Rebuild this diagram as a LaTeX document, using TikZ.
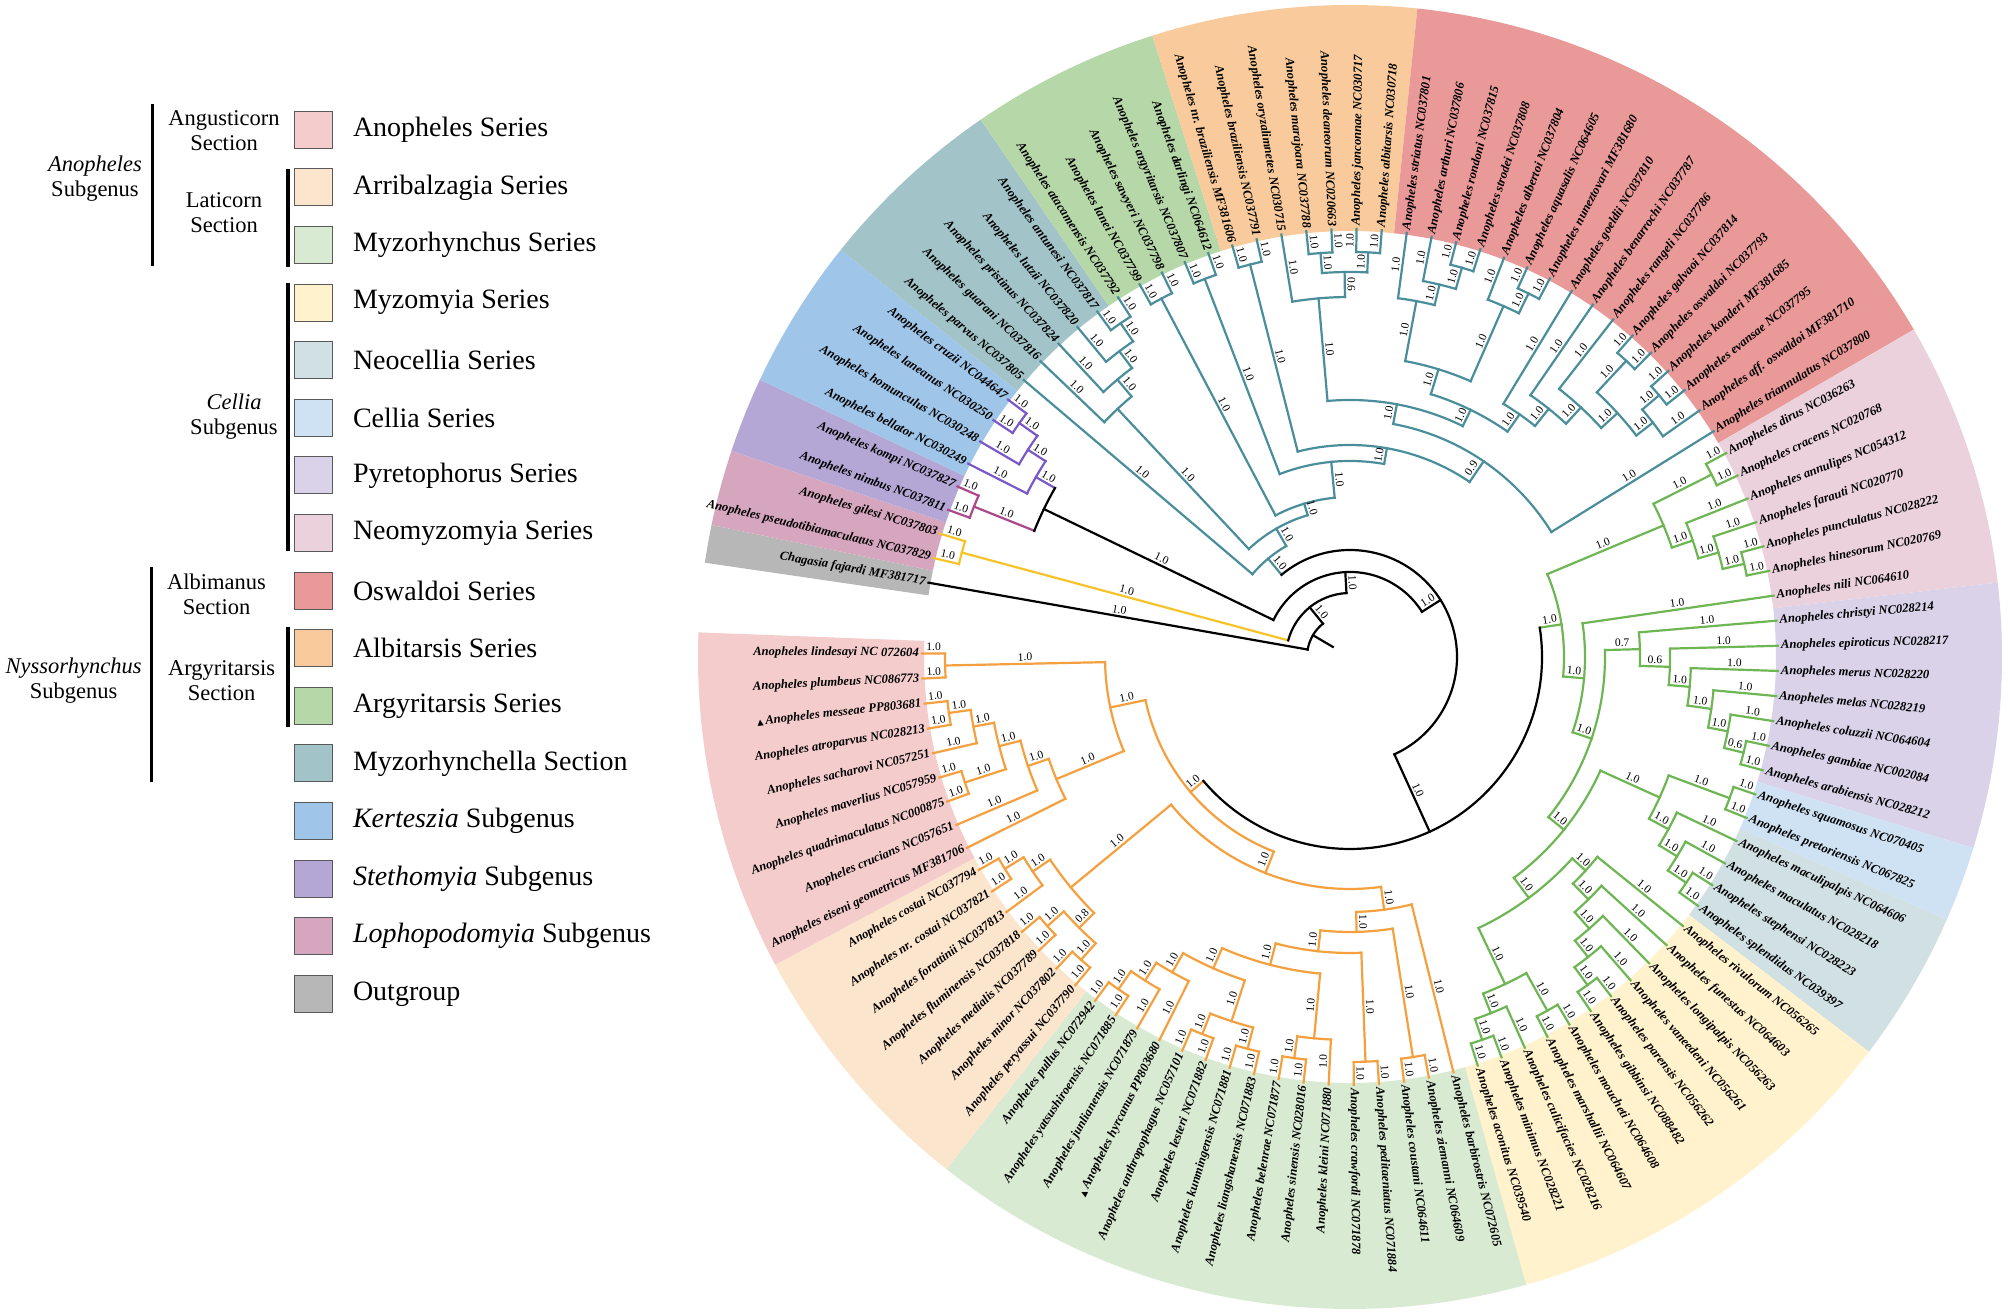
\documentclass[tikz,border=0pt]{standalone}
\usepackage{fontspec}
\setmainfont{Liberation Serif}
\newfontfamily\symfont{DejaVu Sans}
\definecolor{cTeal}{RGB}{74,142,156}
\definecolor{cGreen}{RGB}{110,182,84}
\definecolor{cOr}{RGB}{245,160,62}
\definecolor{cPur}{RGB}{122,88,200}
\definecolor{cMag}{RGB}{172,72,140}
\definecolor{cYel}{RGB}{246,196,40}
\definecolor{bAnoph}{HTML}{F4CCCC}
\definecolor{bArr}{HTML}{FCE5CD}
\definecolor{bMyzh}{HTML}{D9EAD3}
\definecolor{bMyzo}{HTML}{FFF2CC}
\definecolor{bNeoc}{HTML}{D0E0E3}
\definecolor{bCel}{HTML}{CFE2F3}
\definecolor{bPyr}{HTML}{D9D2E9}
\definecolor{bNeom}{HTML}{EAD1DC}
\definecolor{bOsw}{HTML}{EA9999}
\definecolor{bAlb}{HTML}{F9CB9C}
\definecolor{bArg}{HTML}{B6D7A8}
\definecolor{bMyzc}{HTML}{A2C4C9}
\definecolor{bKer}{HTML}{9FC5E8}
\definecolor{bSte}{HTML}{B4A7D6}
\definecolor{bLop}{HTML}{D5A6BD}
\definecolor{bOut}{HTML}{B7B7B7}
\newcount\slc
\newcommand\band[3]{%
 \pgfmathsetmacro\bS{170-(#1-1)*3.37+1.685}%
 \pgfmathsetmacro\bE{170-(#2-1)*3.37-1.685}%
 \fill[#3] (\bS:426) arc[start angle=\bS, end angle=\bE, radius=426] -- (\bE:652) arc[start angle=\bE, end angle=\bS, radius=652] -- cycle;}
\newcommand\lf[3]{%
 \pgfmathsetmacro\tmpang{170-(#1-1)*3.37}%
 \expandafter\xdef\csname treeAl#1\endcsname{\tmpang}%
 \expandafter\xdef\csname treeRl#1\endcsname{428}%
 \expandafter\xdef\csname treeCl#1\endcsname{#3}%
 \coordinate (l#1) at (\tmpang:428);
 \pgfmathtruncatemacro\isleft{(\tmpang > 90 || \tmpang < -90) ? 1 : 0}%
 \ifnum\isleft=1
   \pgfmathsetmacro\rot{\tmpang+180}%
   \node[leaflab, rotate=\rot, anchor=east] (L#1) at (\tmpang:431) {#2};
 \else
   \node[leaflab, rotate=\tmpang, anchor=west] (L#1) at (\tmpang:431) {#2};
 \fi}
\newcommand\suplab[4]{%
 \pgfmathsetmacro\slR{(#2+#3)/2}%
 \pgfmathsetmacro\slD{380/\slR}%
 \pgfmathtruncatemacro\isleft{(#1 > 90 || #1 < -90) ? 1 : 0}%
 \ifnum\isleft=1
   \pgfmathsetmacro\slP{#1-\slD}\pgfmathsetmacro\slRot{#1+180}%
 \else
   \pgfmathsetmacro\slP{#1+\slD}\pgfmathsetmacro\slRot{#1}%
 \fi
 \global\advance\slc by 1
 \node[suplab, rotate=\slRot] (s\the\slc) at (\slP:\slR) {#4};}
\newcommand\nd[7]{%
 \edef\ndA{\csname treeA#2\endcsname}%
 \edef\ndB{\csname treeA#3\endcsname}%
 \edef\ndRA{\csname treeR#2\endcsname}%
 \edef\ndRB{\csname treeR#3\endcsname}%
 \edef\ndCA{\csname treeC#2\endcsname}%
 \edef\ndCB{\csname treeC#3\endcsname}%
 \pgfmathsetmacro\ndM{(\ndA+\ndB)/2}%
 \expandafter\xdef\csname treeA#1\endcsname{\ndM}%
 \expandafter\xdef\csname treeR#1\endcsname{#4}%
 \expandafter\xdef\csname treeC#1\endcsname{#5}%
 \coordinate (#1) at (\ndM:#4);
 \coordinate (#1-a) at (\ndA:#4);
 \coordinate (#1-b) at (\ndB:#4);
 \draw[br, draw=\ndCA] (#2) -- (#1-a);
 \draw[br, draw=\ndCB] (#3) -- (#1-b);
 \draw[br, draw=#5] (#1-a) arc[start angle=\ndA, end angle=\ndB, radius=#4];
 \suplab{\ndA}{\ndRA}{#4}{#6}%
 \suplab{\ndB}{\ndRB}{#4}{#7}}
\newcommand\tri{{\symfont\fontsize{8}{8}\selectfont ▲}\,}
\begin{document}
\begin{tikzpicture}[x=1pt,y=1pt,
  br/.style={line width=2.2pt, line cap=rect},
  leaflab/.style={font=\fontsize{12.6}{14}\selectfont\bfseries\itshape, inner sep=0pt},
  suplab/.style={font=\fontsize{11.5}{12}\selectfont, inner sep=0pt},
  legbox/.style={draw=black!65, line width=1pt, minimum width=38pt, minimum height=37pt, inner sep=0pt},
  legtxt/.style={font=\fontsize{28}{32}\selectfont, anchor=west, inner sep=0pt},
  grp/.style={font=\fontsize{22.5}{25}\selectfont, align=center, inner sep=0pt},
  bar/.style={line width=3.5pt}]
\fill[white] (0,0) rectangle (2008,1313);
\useasboundingbox (0,0) rectangle (2008,1313);
% ---------------- legend
\node[legbox, fill=bAnoph] (k1) at (313.5,1183.2) {};
\node[legbox, fill=bArr]   (k2) at (313.5,1125.6) {};
\node[legbox, fill=bMyzh]  (k3) at (313.5,1068.0) {};
\node[legbox, fill=bMyzo]  (k4) at (313.5,1010.4) {};
\node[legbox, fill=bNeoc]  (k5) at (313.5,952.8) {};
\node[legbox, fill=bCel]   (k6) at (313.5,895.2) {};
\node[legbox, fill=bPyr]   (k7) at (313.5,837.6) {};
\node[legbox, fill=bNeom]  (k8) at (313.5,780.0) {};
\node[legbox, fill=bOsw]   (k9) at (313.5,722.4) {};
\node[legbox, fill=bAlb]   (k10) at (313.5,664.8) {};
\node[legbox, fill=bArg]   (k11) at (313.5,607.2) {};
\node[legbox, fill=bMyzc]  (k12) at (313.5,549.6) {};
\node[legbox, fill=bKer]   (k13) at (313.5,492.0) {};
\node[legbox, fill=bSte]   (k14) at (313.5,434.4) {};
\node[legbox, fill=bLop]   (k15) at (313.5,376.8) {};
\node[legbox, fill=bOut]   (k16) at (313.5,319.2) {};
\node[legtxt] (t1) at (352.8,1183.2) {Anopheles Series};
\node[legtxt] (t2) at (352.8,1125.6) {Arribalzagia Series};
\node[legtxt] (t3) at (352.8,1068.0) {Myzorhynchus Series};
\node[legtxt] (t4) at (352.8,1010.4) {Myzomyia Series};
\node[legtxt] (t5) at (352.8,952.8) {Neocellia Series};
\node[legtxt] (t6) at (352.8,895.2) {Cellia Series};
\node[legtxt] (t7) at (352.8,837.6) {Pyretophorus Series};
\node[legtxt] (t8) at (352.8,780.0) {Neomyzomyia Series};
\node[legtxt] (t9) at (352.8,722.4) {Oswaldoi Series};
\node[legtxt] (t10) at (352.8,664.8) {Albitarsis Series};
\node[legtxt] (t11) at (352.8,607.2) {Argyritarsis Series};
\node[legtxt] (t12) at (352.8,549.6) {Myzorhynchella Section};
\node[legtxt] (t13) at (352.8,492.0) {\textit{Kerteszia} Subgenus};
\node[legtxt] (t14) at (352.8,434.4) {\textit{Stethomyia} Subgenus};
\node[legtxt] (t15) at (352.8,376.8) {\textit{Lophopodomyia} Subgenus};
\node[legtxt] (t16) at (352.8,319.2) {Outgroup};
\coordinate (ba1) at (152.4,1209); \coordinate (ba2) at (152.4,1047);
\coordinate (bb1) at (288,1144);   \coordinate (bb2) at (288,1046);
\coordinate (bc1) at (288,1030);   \coordinate (bc2) at (288,762);
\coordinate (bd1) at (151.5,746);  \coordinate (bd2) at (151.5,531);
\coordinate (be1) at (288,686);    \coordinate (be2) at (288,586);
\draw[bar] (ba1) -- (ba2);
\draw[bar] (bb1) -- (bb2);
\draw[bar] (bc1) -- (bc2);
\draw[bar] (bd1) -- (bd2);
\draw[bar] (be1) -- (be2);
\node[grp] (g1) at (224,1182.5) {Angusticorn\\Section};
\node[grp] (g2) at (224,1100) {Laticorn\\Section};
\node[grp] (g3) at (95,1134.5) {\textit{Anopheles}\\Subgenus};
\node[grp] (g4) at (234,896) {\textit{Cellia}\\Subgenus};
\node[grp] (g5) at (216.5,719) {Albimanus\\Section};
\node[grp] (g6) at (221.6,632.5) {Argyritarsis\\Section};
\node[grp] (g7) at (73.6,632.5) {\textit{Nyssorhynchus}\\Subgenus};
% ---------------- tree
\begin{scope}[shift={(1350,656)}]
\band{1}{1}{bOut}
\band{2}{3}{bLop}
\band{4}{5}{bSte}
\band{6}{9}{bKer}
\band{10}{14}{bMyzc}
\band{15}{19}{bArg}
\band{20}{26}{bAlb}
\band{27}{42}{bOsw}
\band{43}{49}{bNeom}
\band{50}{56}{bPyr}
\band{57}{58}{bCel}
\band{59}{62}{bNeoc}
\band{63}{73}{bMyzo}
\band{74}{89}{bMyzh}
\band{90}{96}{bArr}
\band{97}{105}{bAnoph}
\lf{1}{Chagasia fajardi MF381717}{black}
\lf{2}{Anopheles pseudotibiamaculatus NC037829}{cYel}
\lf{3}{Anopheles gilesi NC037803}{cYel}
\lf{4}{Anopheles nimbus NC037811}{cMag}
\lf{5}{Anopheles kompi NC037827}{cMag}
\lf{6}{Anopheles bellator NC030249}{cPur}
\lf{7}{Anopheles homunculus NC030248}{cPur}
\lf{8}{Anopheles laneanus NC030250}{cPur}
\lf{9}{Anopheles cruzii NC044647}{cPur}
\lf{10}{Anopheles parvus NC037805}{cTeal}
\lf{11}{Anopheles guarani NC037816}{cTeal}
\lf{12}{Anopheles pristinus NC037824}{cTeal}
\lf{13}{Anopheles lutzii NC037820}{cTeal}
\lf{14}{Anopheles antunesi NC037817}{cTeal}
\lf{15}{Anopheles atacamensis NC037792}{cTeal}
\lf{16}{Anopheles lanei NC037799}{cTeal}
\lf{17}{Anopheles sawyeri NC037798}{cTeal}
\lf{18}{Anopheles argyritarsis NC037807}{cTeal}
\lf{19}{Anopheles darlingi NC064612}{cTeal}
\lf{20}{Anopheles nr. braziliensis MF381606}{cTeal}
\lf{21}{Anopheles braziliensis NC037791}{cTeal}
\lf{22}{Anopheles oryzalimnetes NC030715}{cTeal}
\lf{23}{Anopheles marajoara NC037788}{cTeal}
\lf{24}{Anopheles deaneorum NC020663}{cTeal}
\lf{25}{Anopheles janconnae NC030717}{cTeal}
\lf{26}{Anopheles albitarsis NC030718}{cTeal}
\lf{27}{Anopheles striatus NC037801}{cTeal}
\lf{28}{Anopheles arthuri NC037806}{cTeal}
\lf{29}{Anopheles rondoni NC037815}{cTeal}
\lf{30}{Anopheles strodei NC037808}{cTeal}
\lf{31}{Anopheles albertoi NC037804}{cTeal}
\lf{32}{Anopheles aquasalis NC064605}{cTeal}
\lf{33}{Anopheles nuneztovari MF381680}{cTeal}
\lf{34}{Anopheles goeldii NC037810}{cTeal}
\lf{35}{Anopheles benarrochi NC037787}{cTeal}
\lf{36}{Anopheles rangeli NC037786}{cTeal}
\lf{37}{Anopheles galvaoi NC037814}{cTeal}
\lf{38}{Anopheles oswaldoi NC037793}{cTeal}
\lf{39}{Anopheles konderi MF381685}{cTeal}
\lf{40}{Anopheles evansae NC037795}{cTeal}
\lf{41}{Anopheles aff. oswaldoi MF381710}{cTeal}
\lf{42}{Anopheles triannulatus NC037800}{cTeal}
\lf{43}{Anopheles dirus NC036263}{cGreen}
\lf{44}{Anopheles cracens NC020768}{cGreen}
\lf{45}{Anopheles annulipes NC054312}{cGreen}
\lf{46}{Anopheles farauti NC020770}{cGreen}
\lf{47}{Anopheles punctulatus NC028222}{cGreen}
\lf{48}{Anopheles hinesorum NC020769}{cGreen}
\lf{49}{Anopheles nili NC064610}{cGreen}
\lf{50}{Anopheles christyi NC028214}{cGreen}
\lf{51}{Anopheles epiroticus NC028217}{cGreen}
\lf{52}{Anopheles merus NC028220}{cGreen}
\lf{53}{Anopheles melas NC028219}{cGreen}
\lf{54}{Anopheles coluzzii NC064604}{cGreen}
\lf{55}{Anopheles gambiae NC002084}{cGreen}
\lf{56}{Anopheles arabiensis NC028212}{cGreen}
\lf{57}{Anopheles squamosus NC070405}{cGreen}
\lf{58}{Anopheles pretoriensis NC067825}{cGreen}
\lf{59}{Anopheles maculipalpis NC064606}{cGreen}
\lf{60}{Anopheles maculatus NC028218}{cGreen}
\lf{61}{Anopheles stephensi NC028223}{cGreen}
\lf{62}{Anopheles splendidus NC039397}{cGreen}
\lf{63}{Anopheles rivulorum NC056265}{cGreen}
\lf{64}{Anopheles funestus NC064603}{cGreen}
\lf{65}{Anopheles longipalpis NC056263}{cGreen}
\lf{66}{Anopheles vaneedeni NC056261}{cGreen}
\lf{67}{Anopheles parensis NC056262}{cGreen}
\lf{68}{Anopheles gibbinsi NC088482}{cGreen}
\lf{69}{Anopheles moucheti NC064608}{cGreen}
\lf{70}{Anopheles marshallii NC064607}{cGreen}
\lf{71}{Anopheles culicifacies NC028216}{cGreen}
\lf{72}{Anopheles minimus NC028221}{cGreen}
\lf{73}{Anopheles aconitus NC039540}{cGreen}
\lf{74}{Anopheles barbirostris NC072605}{cOr}
\lf{75}{Anopheles ziemanni NC064609}{cOr}
\lf{76}{Anopheles coustani NC064611}{cOr}
\lf{77}{Anopheles peditaeniatus NC071884}{cOr}
\lf{78}{Anopheles crawfordi NC071878}{cOr}
\lf{79}{Anopheles kleini NC071880}{cOr}
\lf{80}{Anopheles sinensis NC028016}{cOr}
\lf{81}{Anopheles belenrae NC071877}{cOr}
\lf{82}{Anopheles liangshanensis NC071883}{cOr}
\lf{83}{Anopheles kunmingensis NC071881}{cOr}
\lf{84}{Anopheles lesteri NC071882}{cOr}
\lf{85}{Anopheles anthropophagus NC057101}{cOr}
\lf{86}{\tri Anopheles hyrcanus PP803680}{cOr}
\lf{87}{Anopheles junlianensis NC071879}{cOr}
\lf{88}{Anopheles yatsushiroensis NC071885}{cOr}
\lf{89}{Anopheles pullus NC072942}{cOr}
\lf{90}{Anopheles peryassui NC037790}{cOr}
\lf{91}{Anopheles minor NC037802}{cOr}
\lf{92}{Anopheles medialis NC037789}{cOr}
\lf{93}{Anopheles fluminensis NC037818}{cOr}
\lf{94}{Anopheles forattinii NC037813}{cOr}
\lf{95}{Anopheles nr. costai NC037821}{cOr}
\lf{96}{Anopheles costai NC037794}{cOr}
\lf{97}{Anopheles eiseni geometricus MF381706}{cOr}
\lf{98}{Anopheles crucians NC057651}{cOr}
\lf{99}{Anopheles quadrimaculatus NC000875}{cOr}
\lf{100}{Anopheles maverlius NC057959}{cOr}
\lf{101}{Anopheles sacharovi NC057251}{cOr}
\lf{102}{Anopheles atroparvus NC028213}{cOr}
\lf{103}{\tri Anopheles messeae PP803681}{cOr}
\lf{104}{Anopheles plumbeus NC086773}{cOr}
\lf{105}{Anopheles lindesayi NC 072604}{cOr}
% internal nodes
\nd{lopho}{l2}{l3}{402}{cYel}{1.0}{1.0}
\nd{steth}{l4}{l5}{405}{cMag}{1.0}{1.0}
\nd{k3}{l8}{l9}{405}{cPur}{1.0}{1.0}
\nd{k2}{l7}{k3}{383}{cPur}{1.0}{1.0}
\nd{kert}{l6}{k2}{362}{cPur}{1.0}{1.0}
\nd{ks}{steth}{kert}{340}{black}{1.0}{1.0}
% Nyssorhynchus
\nd{m4}{l14}{l15}{405}{cTeal}{1.0}{1.0}
\nd{m3}{l13}{m4}{383}{cTeal}{1.0}{1.0}
\nd{m2}{l12}{m3}{362}{cTeal}{1.0}{1.0}
\nd{myz}{l11}{m2}{340}{cTeal}{1.0}{1.0}
\nd{ga}{l16}{l17}{405}{cTeal}{1.0}{1.0}
\nd{gb}{l18}{l19}{405}{cTeal}{1.0}{1.0}
\nd{a1}{l20}{l21}{405}{cTeal}{1.0}{1.0}
\nd{a2}{l23}{l24}{405}{cTeal}{1.0}{1.0}
\nd{a3}{l25}{l26}{405}{cTeal}{1.0}{1.0}
\nd{a4}{a2}{a3}{385}{cTeal}{1.0}{1.0}
\nd{a5}{l22}{a4}{360}{cTeal}{1.0}{0.6}
\nd{o1}{l29}{l30}{405}{cTeal}{1.0}{1.0}
\nd{o2}{l28}{o1}{383}{cTeal}{1.0}{1.0}
\nd{oa}{l27}{o2}{362}{cTeal}{1.0}{1.0}
\nd{o5}{l32}{l33}{405}{cTeal}{1.0}{1.0}
\nd{ob}{l31}{o5}{383}{cTeal}{1.0}{1.0}
\nd{oab}{oa}{ob}{301}{cTeal}{1.0}{1.0}
\nd{o7}{l37}{l38}{405}{cTeal}{1.0}{1.0}
\nd{o8}{l39}{l40}{405}{cTeal}{1.0}{1.0}
\nd{o9}{o8}{l41}{383}{cTeal}{1.0}{1.0}
\nd{o10}{o7}{o9}{362}{cTeal}{1.0}{1.0}
\nd{o11}{l36}{o10}{340}{cTeal}{1.0}{1.0}
\nd{o12}{l35}{o11}{318}{cTeal}{1.0}{1.0}
\nd{oc}{l34}{o12}{296}{cTeal}{1.0}{1.0}
\nd{oabc}{oab}{oc}{275}{cTeal}{1.0}{1.0}
\nd{yy}{a5}{oabc}{257}{cTeal}{1.0}{1.0}
\nd{b5}{yy}{l42}{237}{cTeal}{1.0}{1.0}
\nd{b4}{a1}{b5}{212}{cTeal}{1.0}{0.9}
\nd{b3}{gb}{b4}{196}{cTeal}{1.0}{1.0}
\nd{b2}{ga}{b3}{160}{cTeal}{1.0}{1.0}
\nd{b1}{myz}{b2}{148}{cTeal}{1.0}{1.0}
\nd{nyss}{l10}{b1}{128}{cTeal}{1.0}{1.0}
% Cellia
\nd{e1}{l43}{l44}{405}{cGreen}{1.0}{1.0}
\nd{e2}{l47}{l48}{405}{cGreen}{1.0}{1.0}
\nd{e3}{l46}{e2}{383}{cGreen}{1.0}{1.0}
\nd{e4}{l45}{e3}{362}{cGreen}{1.0}{1.0}
\nd{neo}{e1}{e4}{340}{cGreen}{1.0}{1.0}
\nd{p5}{l55}{l56}{405}{cGreen}{1.0}{1.0}
\nd{p4}{l54}{p5}{385}{cGreen}{1.0}{0.6}
\nd{p3}{l53}{p4}{365}{cGreen}{1.0}{1.0}
\nd{p2}{l52}{p3}{341}{cGreen}{1.0}{1.0}
\nd{pyr}{l51}{p2}{320}{cGreen}{1.0}{1.0}
\nd{pc}{l50}{pyr}{290}{cGreen}{1.0}{0.6}
\nd{c1}{l57}{l58}{405}{cGreen}{1.0}{1.0}
\nd{n3}{l61}{l62}{405}{cGreen}{1.0}{1.0}
\nd{n2}{l60}{n3}{383}{cGreen}{1.0}{1.0}
\nd{n1}{l59}{n2}{362}{cGreen}{1.0}{1.0}
\nd{cn}{c1}{n1}{340}{cGreen}{1.0}{1.0}
\nd{z1}{l72}{l73}{405}{cGreen}{1.0}{1.0}
\nd{z2}{l71}{z1}{383}{cGreen}{1.0}{1.0}
\nd{z3}{l69}{l70}{405}{cGreen}{1.0}{1.0}
\nd{z4}{z3}{z2}{362}{cGreen}{1.0}{1.0}
\nd{z5}{l67}{l68}{405}{cGreen}{1.0}{1.0}
\nd{z6}{l66}{z5}{383}{cGreen}{1.0}{1.0}
\nd{z7}{l65}{z6}{362}{cGreen}{1.0}{1.0}
\nd{z8}{l64}{z7}{340}{cGreen}{1.0}{1.0}
\nd{z9}{l63}{z8}{318}{cGreen}{1.0}{1.0}
\nd{myzo}{z9}{z4}{300}{cGreen}{1.0}{1.0}
\nd{cnm}{cn}{myzo}{275}{cGreen}{1.0}{1.0}
\nd{r2}{pc}{cnm}{255}{cGreen}{0.7}{1.0}
\nd{rest}{l49}{r2}{235}{cGreen}{1.0}{1.0}
\nd{cellia}{neo}{rest}{214}{cGreen}{1.0}{1.0}
% Anopheles subgenus
\nd{mh1}{l88}{l89}{405}{cOr}{1.0}{1.0}
\nd{mh2}{l87}{mh1}{383}{cOr}{1.0}{1.0}
\nd{mh3}{l86}{mh2}{362}{cOr}{1.0}{1.0}
\nd{mh5}{l84}{l85}{405}{cOr}{1.0}{1.0}
\nd{mh6}{l82}{l83}{405}{cOr}{1.0}{1.0}
\nd{mh7}{mh6}{mh5}{383}{cOr}{1.0}{1.0}
\nd{mh8}{mh7}{mh3}{340}{cOr}{1.0}{1.0}
\nd{mh9}{l80}{l81}{405}{cOr}{1.0}{1.0}
\nd{mh10}{l79}{mh9}{383}{cOr}{1.0}{1.0}
\nd{mh11}{mh10}{mh8}{318}{cOr}{1.0}{1.0}
\nd{mh12}{l77}{l78}{405}{cOr}{1.0}{1.0}
\nd{mh13}{mh12}{mh11}{296}{cOr}{1.0}{1.0}
\nd{mh14}{l75}{l76}{405}{cOr}{1.0}{1.0}
\nd{mh15}{mh14}{mh13}{275}{cOr}{1.0}{1.0}
\nd{myzh}{l74}{mh15}{255}{cOr}{1.0}{1.0}
\nd{ar1}{l95}{l96}{405}{cOr}{1.0}{1.0}
\nd{ar2}{l94}{ar1}{383}{cOr}{1.0}{1.0}
\nd{ar3}{l92}{l93}{405}{cOr}{1.0}{1.0}
\nd{ar4}{l90}{l91}{405}{cOr}{1.0}{1.0}
\nd{ar5}{ar4}{ar3}{383}{cOr}{1.0}{1.0}
\nd{arr}{ar5}{ar2}{362}{cOr}{0.8}{1.0}
\nd{as1}{l102}{l103}{405}{cOr}{1.0}{1.0}
\nd{as2}{l101}{as1}{383}{cOr}{1.0}{1.0}
\nd{as3}{l99}{l100}{405}{cOr}{1.0}{1.0}
\nd{as4}{as3}{as2}{362}{cOr}{1.0}{1.0}
\nd{as5}{l98}{as4}{340}{cOr}{1.0}{1.0}
\nd{as6}{l97}{as5}{318}{cOr}{1.0}{1.0}
\nd{as7}{l104}{l105}{405}{cOr}{1.0}{1.0}
\nd{anser}{as6}{as7}{245}{cOr}{1.0}{1.0}
\nd{lati}{myzh}{arr}{232}{cOr}{1.0}{1.0}
\nd{anoph}{lati}{anser}{209}{cOr}{1.0}{1.0}
% backbone
\nd{w}{cellia}{anoph}{192}{black}{1.0}{1.0}
\nd{z}{nyss}{w}{107}{black}{1.0}{1.0}
\nd{y}{ks}{z}{85}{black}{1.0}{1.0}
\nd{x}{lopho}{y}{64}{black}{1.0}{1.0}
\nd{root}{l1}{x}{43}{black}{1.0}{1.0}
\coordinate (rootstub) at (\csname treeAroot\endcsname:20);
\draw[br] (root) -- (rootstub);
\end{scope}
\end{tikzpicture}
\end{document}
